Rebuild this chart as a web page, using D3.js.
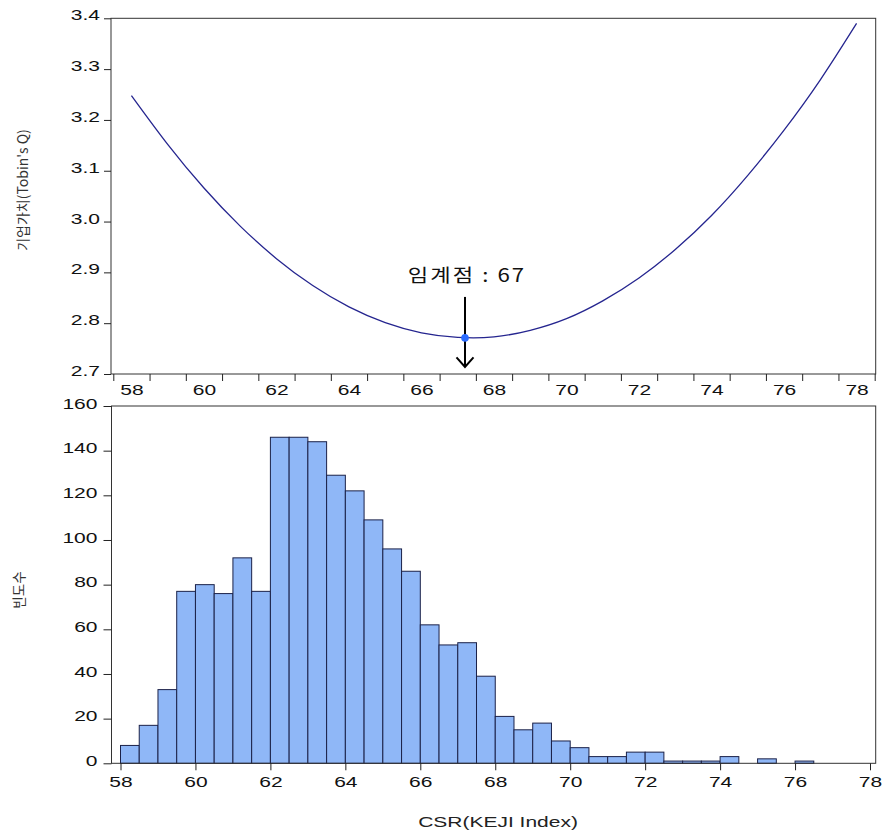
<!DOCTYPE html>
<html><head><meta charset="utf-8">
<script src="https://cdn.jsdelivr.net/npm/d3@7"></script>
<style>body{margin:0;background:#fff} svg{display:block}</style>
</head><body><svg id="c" width="885" height="838"></svg>
<script>
// ---- data ----
const curveX = [58,59,60,61,62,63,64,65,66,67,68,69,70,71,72,73,74,75,76,77,78];
const curveY = [3.248,3.152,3.066,2.991,2.927,2.874,2.832,2.801,2.781,2.772,2.773,2.786,2.809,2.844,2.889,2.945,3.012,3.091,3.180,3.279,3.390];
const criticalX = 67.2;
const criticalY = 2.771;
const criticalLabel = "임계점 : 67";
const binLower = [58,58.5,59,59.5,60,60.5,61,61.5,62,62.5,63,63.5,64,64.5,65,65.5,66,66.5,67,67.5,68,68.5,69,69.5,70,70.5,71,71.5,72,72.5,73,73.5,74,74.5,75,75.5,76];
const binCounts = [8,17,33,77,80,76,92,77,146,146,144,129,122,109,96,86,62,53,54,39,21,15,18,10,7,3,3,5,5,1,1,1,3,0,2,0,1];
const binWidth = 0.5;
const topYTicks = [2.7,2.8,2.9,3.0,3.1,3.2,3.3,3.4];
const topXLabels = [58,60,62,64,66,68,70,72,74,76,78];
const botYTicks = [0,20,40,60,80,100,120,140,160];
const botXTicks = [58,60,62,64,66,68,70,72,74,76,78];
const topYTitle = "기업가치(Tobin's Q)";
const botYTitle = "빈도수";
const xTitle = "CSR(KEJI Index)";

// ---- layout ----
const svg = d3.select("#c");
const K = 1.45; // horizontal stretch of the original text
const FONT = "'Liberation Sans', Arial, sans-serif";
const KFONT = "'Noto Sans CJK KR', sans-serif";

const T = {l:111, r:875.7, t:18.3, b:374};
const B = {l:111.5, r:875.7, t:406, b:763.3};

const xTop = d3.scaleLinear().domain([57.5,78.5]).range([113.3,874.7]);
const yTop = d3.scaleLinear().domain([2.7,3.4]).range([T.b,T.t]);
const xBot = d3.scaleLinear().domain([58,78]).range([120.5,870]);
const yBot = d3.scaleLinear().domain([0,160]).range([B.b,B.t]);

function stretch(sel,k){
  sel.each(function(){
    const t=d3.select(this);
    const x=+t.attr("x")||0;
    t.attr("x",x/k).attr("transform",`scale(${k},1)`);
  });
}
function styleAxis(g){
  g.select(".domain").remove();
  g.selectAll("line").attr("stroke","#222");
  g.selectAll("text").attr("font-family",FONT).attr("font-size",14.5).attr("fill","#111");
}

// ---- top chart ----
const gTop = svg.append("g");
gTop.append("rect").attr("x",T.l).attr("y",T.t).attr("width",T.r-T.l).attr("height",T.b-T.t)
  .attr("fill","none").attr("stroke","#333").attr("stroke-width",1);

const gyT = gTop.append("g").attr("transform",`translate(${T.l},0)`)
  .call(d3.axisLeft(yTop).tickValues(topYTicks).tickFormat(d3.format(".1f")).tickSize(7).tickPadding(4));
styleAxis(gyT);
gyT.selectAll("text").attr("dy","0.1em");
stretch(gyT.selectAll("text"),K);

const gxTmarks = gTop.append("g").attr("transform",`translate(0,${T.b})`)
  .call(d3.axisBottom(xTop).tickValues(d3.range(57.5,78.51,1)).tickFormat("").tickSize(7));
styleAxis(gxTmarks);
const gxTlab = gTop.append("g").attr("transform",`translate(0,${T.b})`)
  .call(d3.axisBottom(xTop).tickValues(topXLabels).tickSize(0).tickPadding(11));
styleAxis(gxTlab);
stretch(gxTlab.selectAll("text"),K);

const line = d3.line().x((d,i)=>xTop(curveX[i])).y(d=>yTop(d)).curve(d3.curveNatural);
gTop.append("path").datum(curveY).attr("d",line).attr("fill","none")
  .attr("stroke","#25258f").attr("stroke-width",1.3);

// annotation arrow
const ax = xTop(criticalX);
const ay = yTop(criticalY);
gTop.append("line").attr("x1",ax).attr("x2",ax).attr("y1",ay-41).attr("y2",ay+29)
  .attr("stroke","#000").attr("stroke-width",2);
gTop.append("path").attr("d",`M${ax-8.5},${ay+19.5}L${ax},${ay+29}L${ax+8.5},${ay+19.5}`)
  .attr("fill","none").attr("stroke","#000").attr("stroke-width",2);
gTop.append("circle").attr("cx",ax).attr("cy",ay).attr("r",3.8).attr("fill","#2b6cff");
gTop.append("text").attr("transform",`translate(${ax+1},${ay-56}) scale(1.2,1)`)
  .attr("text-anchor","middle").attr("font-family",KFONT).attr("font-size",18.5)
  .attr("fill","#111").attr("textLength",97).attr("lengthAdjust","spacing").text(criticalLabel);

// y title
svg.append("text").attr("transform",`translate(28,190) rotate(-90)`)
  .attr("text-anchor","middle").attr("font-family",KFONT).attr("font-size",14)
  .attr("fill","#333").text(topYTitle);

// ---- bottom chart ----
const gBot = svg.append("g");
gBot.selectAll("rect.bar").data(binCounts.map((c,i)=>({x0:binLower[i],c})).filter(d=>d.c>0))
  .enter().append("rect").attr("class","bar")
  .attr("x",d=>xBot(d.x0)).attr("width",d=>xBot(d.x0+binWidth)-xBot(d.x0))
  .attr("y",d=>yBot(d.c)).attr("height",d=>yBot(0)-yBot(d.c))
  .attr("fill","#8fb7f7").attr("stroke","#1b2148").attr("stroke-width",1);

gBot.append("rect").attr("x",B.l).attr("y",B.t).attr("width",B.r-B.l).attr("height",B.b-B.t)
  .attr("fill","none").attr("stroke","#333").attr("stroke-width",1);

const gyB = gBot.append("g").attr("transform",`translate(${B.l},0)`)
  .call(d3.axisLeft(yBot).tickValues(botYTicks).tickSize(8).tickPadding(6));
styleAxis(gyB);
gyB.selectAll("text").attr("dy","0.15em");
stretch(gyB.selectAll("text"),K);

const gxB = gBot.append("g").attr("transform",`translate(0,${B.b})`)
  .call(d3.axisBottom(xBot).tickValues(botXTicks).tickSize(7).tickPadding(6));
styleAxis(gxB);
stretch(gxB.selectAll("text"),K);

svg.append("text").attr("transform",`translate(24,590) rotate(-90)`)
  .attr("text-anchor","middle").attr("font-family",KFONT).attr("font-size",13.5)
  .attr("fill","#333").text(botYTitle);

svg.append("text").attr("transform",`translate(498,827) scale(1.4,1)`)
  .attr("text-anchor","middle").attr("font-family",FONT).attr("font-size",15)
  .attr("fill","#222").text(xTitle);
</script>
</body></html>
